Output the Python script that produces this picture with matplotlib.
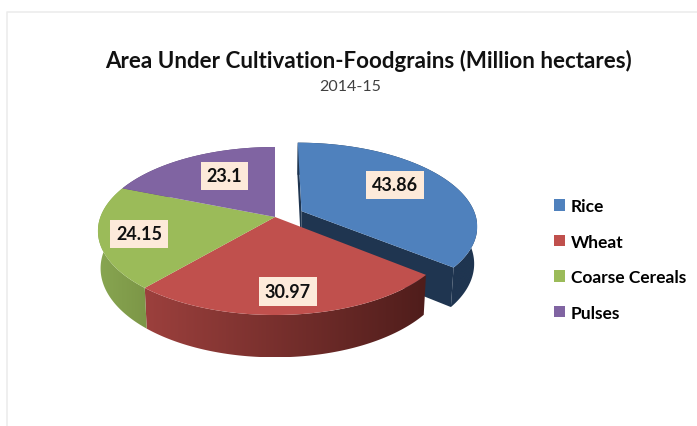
import numpy as np
import matplotlib.pyplot as plt
from matplotlib.patches import Patch, Polygon
from matplotlib.colors import to_rgb

crops = ['Rice', 'Wheat', 'Coarse Cereals', 'Pulses']
area = [43.86, 30.97, 24.15, 23.1]
colors = ['#4f81bd', '#c0504d', '#9bbb59', '#8064a2']

# side wall colours, right end of the arc then left end
side_colors = [('#1f3550', '#1f3550'), ('#4f1d1b', '#9c403d'),
               ('#7c9647', '#88a651'), ('#5a4574', '#5a4574')]
explode = [0.17, 0, 0, 0]

title = 'Area Under Cultivation-Foodgrains (Million hectares)'
subtitle = '2014-15'

# pixel centres of the value boxes
label_xy = [(395, 186), (288, 292.5), (139, 235), (224.5, 177)]

# disc seen in perspective, units are pixels of the figure
CX, CY = 275, 218
RX, RY = 174.6, 81.67
K = 1 / 6
INSET = 0.985
DROP = 36.5


def project(X, Y, bottom=False):
    d = 1 + K * Y
    if bottom:
        return CX + INSET * RX * X / d, CY + (DROP - INSET * RY * Y) / d
    return CX + RX * X / d, CY - RY * Y / d


fig = plt.figure(figsize=(6.97, 4.27), dpi=100)
ax = fig.add_axes([0, 0, 1, 1])
ax.axis('off')

plt.rcParams['font.family'] = ['Lato', 'DejaVu Sans']

# chart area edge
ax.plot([7, 7, 697], [427, 13, 13], color='#ececec', lw=1.2)

edges = np.cumsum([0] + area) / sum(area) * 2 * np.pi

for i in range(len(area)):
    t1, t2 = edges[i], edges[i + 1]
    mid = (t1 + t2) / 2
    ox, oy = explode[i] * np.sin(mid), explode[i] * np.cos(mid)
    theta = np.linspace(t1, t2, 120)
    X, Y = ox + np.sin(theta), oy + np.cos(theta)
    z = 2 + i * 0.1

    # cut faces only show on the pulled out slice
    if explode[i] > 0:
        for t in (t1, t2):
            xs = np.array([ox, ox + np.sin(t)])
            ys = np.array([oy, oy + np.cos(t)])
            tx, ty = project(xs, ys)
            bx, by = project(xs, ys, bottom=True)
            ax.fill(np.r_[tx, bx[::-1]], np.r_[ty, by[::-1]],
                    color=side_colors[i][0], lw=0, zorder=z)

    # outer wall, shaded from left to right with a clipped gradient
    tx, ty = project(X, Y)
    bx, by = project(X, Y, bottom=True)
    wall = np.c_[np.r_[tx, bx[::-1]], np.r_[ty, by[::-1]]]
    left, right = wall[:, 0].min(), wall[:, 0].max()
    shade = np.linspace(np.array(to_rgb(side_colors[i][1])),
                        np.array(to_rgb(side_colors[i][0])), 256)[np.newaxis, :, :]
    img = ax.imshow(shade, extent=(left, right, wall[:, 1].max(), wall[:, 1].min()),
                    aspect='auto', interpolation='bilinear', zorder=z)
    img.set_clip_path(Polygon(wall, closed=True, transform=ax.transData))

for i in range(len(area)):
    t1, t2 = edges[i], edges[i + 1]
    mid = (t1 + t2) / 2
    ox, oy = explode[i] * np.sin(mid), explode[i] * np.cos(mid)
    theta = np.linspace(t1, t2, 120)
    X = np.r_[ox, ox + np.sin(theta)]
    Y = np.r_[oy, oy + np.cos(theta)]
    tx, ty = project(X, Y)
    ax.fill(tx, ty, color=colors[i], lw=0, zorder=3)

ax.set_xlim(0, 697)
ax.set_ylim(427, 0)

for value, (x, y) in zip(area, label_xy):
    ax.text(x, y, str(value), ha='center', va='center', fontsize=13, weight='bold',
            color='#111111', zorder=5,
            bbox=dict(boxstyle='square,pad=0.33', fc='#fdeada', ec='none'))

ax.text(368.5, 61, title, ha='center', va='center', fontsize=16.15, weight='bold', color='#111111')
ax.text(350, 87, subtitle, ha='center', va='center', fontsize=11.5, color='#404040')

handles = [Patch(facecolor=c, edgecolor='none') for c in colors]
ax.legend(handles, crops, loc='upper left', bbox_to_anchor=(554 / 697, 1 - 199 / 427),
          frameon=False, prop=dict(family='Lato', weight='bold', size=12.5),
          handlelength=0.63, handleheight=0.63, handletextpad=0.35,
          labelspacing=1.13, borderpad=0, borderaxespad=0)

plt.savefig('out.png', dpi=100)
